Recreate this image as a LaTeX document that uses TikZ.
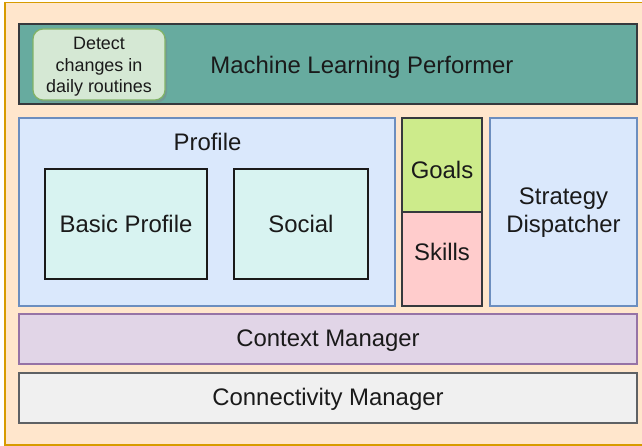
\documentclass[tikz,border=0pt]{standalone}
\usepackage{fontspec}
\setmainfont{Liberation Sans}
\usetikzlibrary{shadows}
\definecolor{outerfill}{HTML}{FFE6CC}
\definecolor{outerline}{HTML}{D79B00}
\definecolor{mlfill}{HTML}{67AB9F}
\definecolor{darkline}{HTML}{36393D}
\definecolor{detfill}{HTML}{D5E8D4}
\definecolor{detline}{HTML}{82B366}
\definecolor{blufill}{HTML}{DAE8FC}
\definecolor{bluline}{HTML}{6C8EBF}
\definecolor{cyanfill}{HTML}{D8F3F1}
\definecolor{goalfill}{HTML}{CDEB8B}
\definecolor{skillfill}{HTML}{FFCCCC}
\definecolor{ctxfill}{HTML}{E1D5E7}
\definecolor{ctxline}{HTML}{9673A6}
\definecolor{conFill}{HTML}{F0F0F0}
\definecolor{txt}{HTML}{1A1A1A}
\tikzset{
  box/.style={line width=1.2bp, text=txt, font=\fontsize{24}{28}\selectfont, align=center, inner sep=0pt},
  lbl/.style={text=txt, font=\fontsize{24}{28}\selectfont, align=center, inner sep=0pt},
}
\begin{document}
\begin{tikzpicture}[x=1bp,y=-1bp]
\useasboundingbox (0,0) rectangle (642,446);
\clip (0,0) rectangle (642,446);
% outer frame
\draw[fill=outerfill, draw=outerline, line width=1.2bp] (5,2.5) rectangle (650,445);
% machine learning performer
\draw[box, fill=mlfill, draw=darkline] (19,24) rectangle (637,104);
\node[lbl] (ml) at (362,67) {Machine Learning Performer};
\draw[box, fill=detfill, draw=detline, rounded corners=10bp, drop shadow={shadow xshift=2bp, shadow yshift=-2.5bp, opacity=0.35}] (33,29) rectangle (165,100);
\node[lbl, font=\fontsize{18}{21.5}\selectfont] (det) at (99,67) {Detect\\changes in\\daily routines};
% profile
\draw[box, fill=blufill, draw=bluline] (19,118) rectangle (395,306);
\node[lbl] (prof) at (207.5,142) {Profile};
\node[box, fill=cyanfill, draw=txt, minimum width=162bp, minimum height=110bp] (basic) at (126,224) {};
\node[lbl] at (basic) {Basic Profile};
\node[box, fill=cyanfill, draw=txt, minimum width=134bp, minimum height=110bp] (social) at (301,224) {Social};
% goals / skills
\node[box, fill=goalfill, draw=darkline, minimum width=80bp, minimum height=94bp] (goals) at (442,165) {};
\node[lbl] at ([yshift=-5bp]goals.center) {Goals};
\node[box, fill=skillfill, draw=darkline, minimum width=80bp, minimum height=94bp] (skills) at (442,259) {};
\node[lbl] at ([yshift=7bp]skills.center) {Skills};
% strategy
\node[box, fill=blufill, draw=bluline, minimum width=147bp, minimum height=188bp] (strat) at (563.5,212) {};
\node[lbl] at ([yshift=-1bp]strat.center) {Strategy\\Dispatcher};
% context
\node[box, fill=ctxfill, draw=ctxline, minimum width=618bp, minimum height=50bp] (ctx) at (328,339) {};
\node[lbl] at ([yshift=-2bp]ctx.center) {Context Manager};
% connectivity
\node[box, fill=conFill, draw=darkline!80, minimum width=618bp, minimum height=50bp] (con) at (328,398) {};
\node[lbl] at ([yshift=-1.5bp]con.center) {Connectivity Manager};
\end{tikzpicture}
\end{document}
